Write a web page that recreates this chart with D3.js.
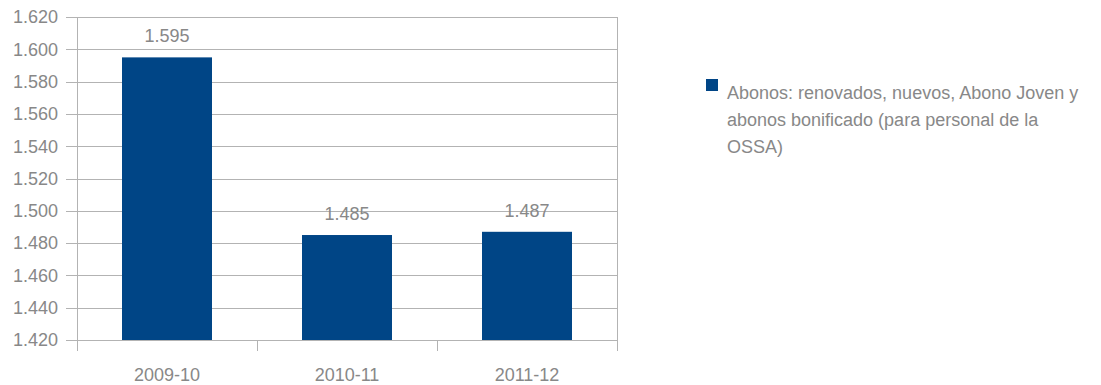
<!DOCTYPE html>
<html><head><meta charset="utf-8">
<script src="https://cdn.jsdelivr.net/npm/d3@7"></script>
<style>body{margin:0;background:#fff}text{font-family:"Liberation Sans",Arial,sans-serif;fill:#888}</style>
</head><body><svg id="c" width="1101" height="385"></svg>
<script>
const categories = ["2009-10","2010-11","2011-12"];
const values = [1.595,1.485,1.487];
const valueLabels = ["1.595","1.485","1.487"];
const yTicks = [1.42,1.44,1.46,1.48,1.50,1.52,1.54,1.56,1.58,1.60,1.62];
const legendLines = ["Abonos: renovados, nuevos, Abono Joven y","abonos bonificado (para personal de la","OSSA)"];

const svg = d3.select("#c");
const L=77,R=617,T=17,B=340;
const x = d3.scaleBand().domain(categories).range([L,R]).paddingInner(0.5).paddingOuter(0.25);
const y = d3.scaleLinear().domain([1.42,1.62]).range([B,T]);
const fmt = d => d3.format(".3f")(d);
// grid
svg.append("g").selectAll("line").data(yTicks).join("line")
 .attr("x1",66).attr("x2",R).attr("y1",d=>Math.round(y(d))+0.5).attr("y2",d=>Math.round(y(d))+0.5)
 .attr("stroke","#b3b3b3").attr("stroke-width",1);
// y labels
svg.append("g").selectAll("text").data(yTicks).join("text")
 .attr("x",58).attr("y",d=>y(d)).attr("dy","0.35em").attr("text-anchor","end")
 .style("font-size","18px").text(d=>fmt(d));
// vertical lines
svg.append("line").attr("x1",L+0.5).attr("x2",L+0.5).attr("y1",T).attr("y2",351).attr("stroke","#b3b3b3");
svg.append("line").attr("x1",R+0.5).attr("x2",R+0.5).attr("y1",T).attr("y2",351).attr("stroke","#b3b3b3");
const step = (R-L)/categories.length;
svg.append("g").selectAll("line").data(d3.range(1,categories.length)).join("line")
 .attr("x1",d=>Math.round(L+d*step)+0.5).attr("x2",d=>Math.round(L+d*step)+0.5).attr("y1",B).attr("y2",351).attr("stroke","#b3b3b3");
// bars
svg.append("g").selectAll("rect").data(values).join("rect")
 .attr("x",(d,i)=>x(categories[i])).attr("width",x.bandwidth())
 .attr("y",d=>y(d)).attr("height",d=>B-y(d)).attr("fill","#004586");
// value labels
svg.append("g").selectAll("text").data(values).join("text")
 .attr("x",(d,i)=>x(categories[i])+x.bandwidth()/2).attr("y",d=>y(d)-15)
 .attr("text-anchor","middle").style("font-size","18px").text((d,i)=>valueLabels[i]);
// x labels
svg.append("g").selectAll("text").data(categories).join("text")
 .attr("x",d=>x(d)+x.bandwidth()/2).attr("y",381).attr("text-anchor","middle")
 .style("font-size","18px").text(d=>d);
// legend
svg.append("rect").attr("x",706).attr("y",79).attr("width",12).attr("height",12).attr("fill","#004586");
svg.append("g").selectAll("text").data(legendLines).join("text")
 .attr("x",727).attr("y",(d,i)=>99+i*27).style("font-size","18px").text(d=>d);
</script></body></html>
